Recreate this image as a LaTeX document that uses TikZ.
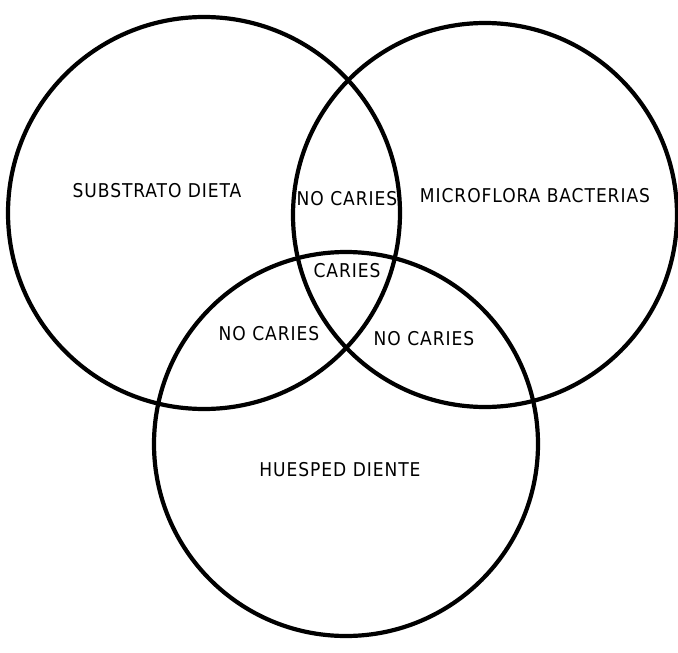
\documentclass[tikz,border=0pt]{standalone}
\usepackage{fontspec}
\setmainfont{DejaVu Sans Condensed}[LetterSpace=5]
\usetikzlibrary{positioning}

\tikzset{
	ring/.style={circle, draw=black, line width=4.2pt, inner sep=0pt},
	lbl/.style={font=\fontsize{19}{21}\selectfont, inner sep=1pt}
}

\begin{document}
\begin{tikzpicture}[x=1pt, y=-1pt]
				\useasboundingbox (0,0) rectangle (678,653);
				% the three sets
				\node[ring, minimum size=392pt] (dieta) at (204,213) {};
				\node[ring, minimum size=384pt] (flora) at (485,215) {};
				\node[ring, minimum size=384pt] (diente) at (346,444) {};
				% labels
				\node[lbl] (sub) at (157,191) {SUBSTRATO DIETA};
				\node[lbl] (mic) at (535,196) {MICROFLORA BACTERIAS};
				\node[lbl] (hue) at (340,470) {HUESPED DIENTE};
				\node[lbl] (nc1) at (347,199) {NO CARIES};
				\node[lbl] (car) at (347,271) {CARIES};
				\node[lbl] (nc2) at (269,334) {NO CARIES};
				\node[lbl] (nc3) at (424,339) {NO CARIES};
			\end{tikzpicture}
\end{document}
